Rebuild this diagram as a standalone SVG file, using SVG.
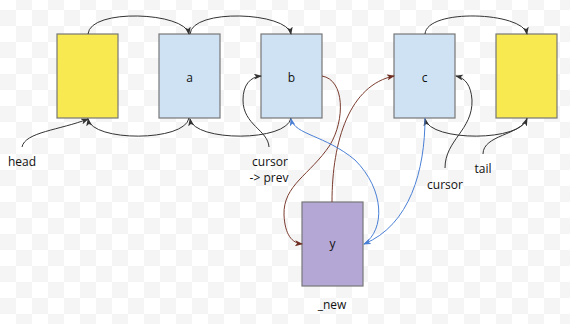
<svg xmlns="http://www.w3.org/2000/svg" width="570" height="324" viewBox="0 0 570 324">
<defs>
<pattern id="chk" x="0" y="10" width="32" height="32" patternUnits="userSpaceOnUse">
<rect width="32" height="32" fill="#ffffff"/>
<rect x="0" y="0" width="16" height="16" fill="#f5f5f5"/>
<rect x="16" y="16" width="16" height="16" fill="#f5f5f5"/>
</pattern>
<marker id="mk" viewBox="0 0 8 6" refX="7" refY="3" markerWidth="8" markerHeight="6" orient="auto" markerUnits="userSpaceOnUse">
<path d="M0,0 L8,3 L0,6 L2,3 z" fill="#333"/>
</marker>
<marker id="mr" viewBox="0 0 8 6" refX="7" refY="3" markerWidth="8" markerHeight="6" orient="auto" markerUnits="userSpaceOnUse">
<path d="M0,0 L8,3 L0,6 L2,3 z" fill="#6e2f22"/>
</marker>
<marker id="mb" viewBox="0 0 8 6" refX="7" refY="3" markerWidth="8" markerHeight="6" orient="auto" markerUnits="userSpaceOnUse">
<path d="M0,0 L8,3 L0,6 L2,3 z" fill="#4a7fd6"/>
</marker>
</defs>
<style>
.n{stroke:#777;stroke-width:1.2}
.yl{fill:#f7e94f}
.bl{fill:#cfe2f3}
.pu{fill:#b4a7d6}
.t{font-family:"Open Sans","DejaVu Sans",sans-serif;font-size:12px;fill:#111;text-anchor:middle}
.e{fill:none;stroke:#333;stroke-width:1;marker-end:url(#mk)}
.r{fill:none;stroke:#7a3b2e;stroke-width:1;marker-end:url(#mr)}
.b{fill:none;stroke:#4a7fd6;stroke-width:1;marker-end:url(#mb)}
</style>
<rect width="570" height="324" fill="url(#chk)"/>
<g id="head"><rect class="n yl" x="57" y="34" width="61" height="84"/></g>
<g id="a"><rect class="n bl" x="159" y="34" width="61" height="84"/><text class="t" x="189.5" y="82">a</text></g>
<g id="b"><rect class="n bl" x="261" y="34" width="61" height="84"/><text class="t" x="291.5" y="82">b</text></g>
<g id="c"><rect class="n bl" x="394" y="34" width="61" height="84"/><text class="t" x="424.5" y="82">c</text></g>
<g id="tail"><rect class="n yl" x="496" y="34" width="61" height="84"/></g>
<g id="y"><rect class="n pu" x="302" y="202" width="61" height="84"/><text class="t" x="332.5" y="248">y</text></g>
<g id="labels">
<text class="t" x="22" y="166">head</text>
<text class="t" x="270" y="166">cursor</text>
<text class="t" x="269" y="182">-&gt; prev</text>
<text class="t" x="445" y="189">cursor</text>
<text class="t" x="483" y="173">tail</text>
<text class="t" x="332" y="309">_new</text>
</g>
<g id="connectors">
<path class="e" d="M88,34 C90,8 185,12 189,34"/>
<path class="e" d="M190,34 C192,8 287,12 291,34"/>
<path class="e" d="M425,34 C427,8 523,12 527,34"/>
<path class="e" d="M189,118 C185,142 92,142 88,119"/>
<path class="e" d="M291,118 C287,142 194,142 190,119"/>
<path class="e" d="M527,118 C523,142 430,142 425,119"/>
<path class="e" d="M22,147 C25,132 60,130 88,119"/>
<path class="e" d="M269,147 C268,130 243,125 243,100 C243,85 250,77 261,76"/>
<path class="e" d="M445,168 C445,140 473,130 472,100 C471,85 465,78 456,76"/>
<path class="e" d="M483,154 C483,135 520,135 527,119"/>
<path class="r" d="M322,76 C345,80 345,120 330,145 C310,175 283,185 284,215 C285,235 292,243 302,244"/>
<path class="r" d="M332,202 C332,140 350,85 394,76"/>
<path class="b" d="M425,118 C425,170 410,225 364,244"/>
<path class="b" d="M364,244 C385,230 385,190 355,160 C325,135 295,135 291,119"/>
</g>
</svg>
